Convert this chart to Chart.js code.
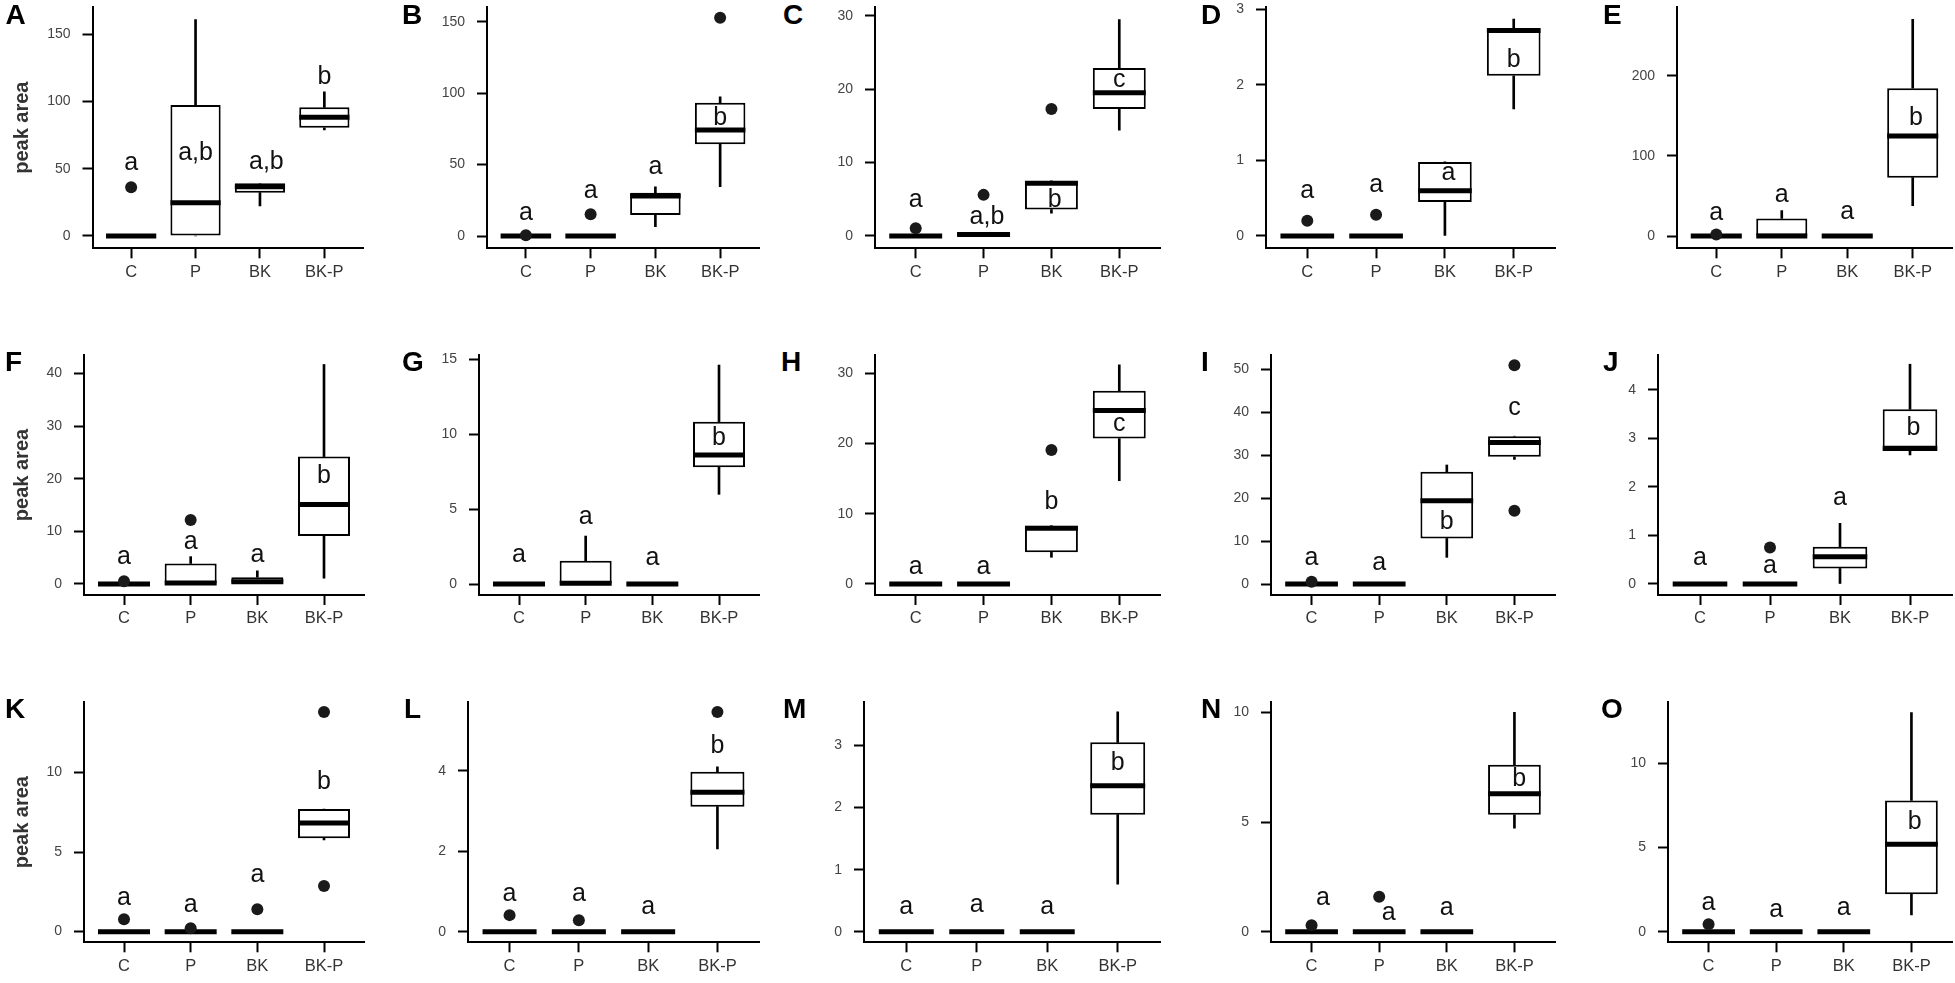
<!DOCTYPE html>
<html><head><meta charset="utf-8">
<script src="https://cdn.jsdelivr.net/npm/chart.js@4.4.1/dist/chart.umd.min.js"></script>
<style>
html,body{margin:0;padding:0;background:#fff;overflow:hidden;}
body{width:1955px;height:983px;position:relative;}
canvas{position:absolute;}
.plab{position:absolute;font:bold 28px "Liberation Sans",Arial,sans-serif;line-height:28px;color:#000;white-space:nowrap;}
</style></head><body>
<script>
// ---------------- data ----------------
const categories = ["C", "P", "BK", "BK-P"];
const panelNames = ["A","B","C","D","E","F","G","H","I","J","K","L","M","N","O"];
const yAxisTitle = "peak area";

const whiskerLow = [
  [0,0,22.3,78.8],[0,0,6.5,34.5],[0,0,3.1,14.4],[0,0,0,1.68],[0,0,0,37.8],
  [0,0,0,1.1],[0,0,0,5.98],[0,0,3.8,14.7],[0,0,6.2,29.0],[0,0,0,2.66],
  [0,0,0,5.77],[0,0,0,2.06],[0,0,0,0.765],[0,0,0,4.72],[0,0,0,0.99]
];
const quartile1 = [
  [0,0,32.2,80.5],[0,0,14.7,64.2],[0,0,3.6,17.3],[0,0,0.45,2.12],[0,0,0,72.8],
  [0,0,0.1,9.1],[0,0,0,7.78],[0,0,4.5,20.7],[0,0,10.6,29.6],[0,0,0.32,2.74],
  [0,0,0,5.87],[0,0,0,3.11],[0,0,0,1.885],[0,0,0,5.33],[0,0,0,2.22]
];
const medians = [
  [0,24.8,36.7,88.3],[0,0,28,74.2],[0,0.2,7.2,19.5],[0,0,0.6,2.72],[0,0,0,124.8],
  [0,0.2,0.45,15.1],[0,0.05,0,8.6],[0,0,7.93,24.7],[0,0,19.4,32.95],[0,0,0.56,2.8],
  [0,0,0,6.82],[0,0,0,3.47],[0,0,0,2.35],[0,0,0,6.29],[0,0,0,5.19]
];
const quartile3 = [
  [0,97.4,39.2,95.7],[0,0,30.3,93.3],[0,0.5,7.5,22.9],[0,0,0.98,2.75],[0,22,0,184.3],
  [0,3.9,1.3,24.2],[0,1.55,0,10.82],[0,0,8.3,27.5],[0,0,26.1,34.4],[0,0,0.77,3.6],
  [0,0,0,7.7],[0,0,0,3.98],[0,0,0,3.05],[0,0,0,7.61],[0,0,0,7.78]
];
const whiskerHigh = [
  [0,161,39.2,107.3],[0,0,34.5,97.5],[0,0.5,7.5,29.5],[0,0,0.98,2.87],[0,31.6,0,270.4],
  [0,5.2,2.5,41.7],[0,3.2,0,14.6],[0,0,8.3,31.2],[0,0,27.7,34.4],[0,0,1.25,4.53],
  [0,0,0,7.7],[0,0,0,4.1],[0,0,0,3.54],[0,0,0,10.0],[0,0,0,13.0]
];
// outliers: [category index, value]
const outliers = [
  [[0,36.2]],
  [[0,0.5],[1,15.2],[3,152.8]],
  [[0,1.05],[1,5.6],[2,17.3]],
  [[0,0.2],[1,0.28]],
  [[0,2]],
  [[0,0.5],[1,12.15]],
  [],
  [[2,19.08]],
  [[0,0.5],[3,50.9],[3,17.05]],
  [[1,0.75]],
  [[0,0.78],[1,0.21],[2,1.41],[3,13.8],[3,2.87]],
  [[0,0.415],[1,0.29],[3,5.46]],
  [],
  [[0,0.3],[1,1.6]],
  [[0,0.44]]
];
const groupLetters = [
  ["a","a,b","a,b","b"],["a","a","a","b"],["a","a,b","b","c"],["a","a","a","b"],["a","a","a","b"],
  ["a","a","a","b"],["a","a","a","b"],["a","a","b","c"],["a","a","b","c"],["a","a","a","b"],
  ["a","a","a","b"],["a","a","a","b"],["a","a","a","b"],["a","a","a","b"],["a","a","a","b"]
];
const letterY = [
  [54,61.7,55.3,118],[15.9,31.7,48.5,82.4],[4.9,2.6,4.9,21.3],[0.59,0.67,0.83,2.33],[28.3,51.2,30.3,146.8],
  [5.2,8.0,5.5,20.4],[1.93,4.49,1.71,9.71],[2.46,2.46,11.6,22.8],[5.97,4.96,14.5,40.9],[0.53,0.37,1.77,3.21],
  [2.1,1.68,3.57,9.37],[0.94,0.94,0.62,4.62],[0.4,0.43,0.4,2.71],[1.52,0.87,1.07,6.96],[1.69,1.25,1.39,6.47]
];
const letterDx = [
  [0,0,0.1,0],[0,0,0,0],[0,0.05,0.05,0],[0,0,0.05,0],[0,0,0,0.05],
  [0,0,0,0],[0,0,0,0],[0,0,0,0],[0,0,0,0],[0,0,0,0.05],
  [0,0,0,0],[0,0,0,0],[0,0,0,0],[0.17,0.14,0,0.07],[0,0,0,0.05]
];
const yTicks = [
  [0,50,100,150],[0,50,100,150],[0,10,20,30],[0,1,2,3],[0,100,200],
  [0,10,20,30,40],[0,5,10,15],[0,10,20,30],[0,10,20,30,40,50],[0,1,2,3,4],
  [0,5,10],[0,2,4],[0,1,2,3],[0,5,10],[0,5,10]
];
const yMin = [-9.15,-8.6,-1.68,-0.163,-15.3, -2.09,-0.73,-1.57,-2.56,-0.227, -0.67,-0.26,-0.17,-0.48,-0.63];
const yMax = [170.3,160.3,31.2,3.03,285.7, 43.5,15.27,32.6,53.3,4.72, 14.43,5.71,3.7,10.47,13.62];

// ---------------- layout (pixels) ----------------
const axisLeft  = [92.5,486.6,874.6,1265.8,1676.9, 84,478.6,874.6,1271,1657.8, 84,468,864,1271,1668.4];
const axisRight = [362.8,758.8,1159.7,1555.2,1951.9, 363.6,758.8,1159.7,1555.2,1951.9, 363.6,758.8,1159.7,1555.2,1951.9];
const rowTop = [7, 355, 702];
const rowBottom = [248.3, 595, 942.3];
const nameLeft = [5.5,402,783,1201,1603, 5,402,781,1201,1603, 5,404,783,1201,1601];
const nameCapTop = [5, 352, 699];

const FONT = '"Liberation Sans", Arial, Helvetica, sans-serif';

for (let p = 0; p < panelNames.length; p++) {
  const row = Math.floor(p / 5), col = p % 5;
  const L = axisLeft[p], R = axisRight[p], T = rowTop[row], B = rowBottom[row];
  const YW = col === 0 ? L : 70;
  const PT = 26, PR = 12;
  const cw = Math.round(YW + (R - L) + PR);
  const ch = Math.ceil(PT + (B - T) + 45);
  const XH = ch - PT - (B - T);

  const cv = document.createElement('canvas');
  cv.width = cw; cv.height = ch;
  cv.style.left = (L - YW) + 'px';
  cv.style.top = (T - PT) + 'px';
  cv.style.width = cw + 'px';
  cv.style.height = ch + 'px';
  document.body.appendChild(cv);

  const lab = document.createElement('div');
  lab.className = 'plab';
  lab.textContent = panelNames[p];
  lab.style.left = nameLeft[p] + 'px';
  lab.style.top = (nameCapTop[row] - 3.7) + 'px';
  document.body.appendChild(lab);

  const idx = [0,1,2,3];
  const gridOpts = { display: true, drawOnChartArea: false, drawTicks: true, tickLength: 10, tickWidth: 2, tickColor: '#000', offset: false };
  const borderOpts = { display: true, color: '#000', width: 2 };

  const extras = {
    id: 'boxExtras' + p,
    afterDatasetDraw(chart, args) {
      if (args.index !== 2) return;
      const ctx = chart.ctx, ys = chart.scales.y;
      ctx.save();
      ctx.strokeStyle = '#000';
      ctx.lineWidth = 5;
      ctx.lineCap = 'butt';
      args.meta.data.forEach((el, i) => {
        const y = ys.getPixelForValue(medians[p][i]);
        ctx.beginPath();
        ctx.moveTo(el.x - el.width / 2, y);
        ctx.lineTo(el.x + el.width / 2, y);
        ctx.stroke();
      });
      ctx.restore();
    },
    afterDraw(chart) {
      const ctx = chart.ctx, xs = chart.scales.x, ys = chart.scales.y;
      ctx.save();
      ctx.font = '25px ' + FONT;
      ctx.fillStyle = '#111';
      ctx.textAlign = 'center';
      ctx.textBaseline = 'middle';
      groupLetters[p].forEach((t, i) => {
        ctx.fillText(t, xs.getPixelForValue(i + letterDx[p][i]), ys.getPixelForValue(letterY[p][i]));
      });
      ctx.restore();
    }
  };

  new Chart(cv, {
    type: 'bar',
    data: {
      datasets: [
        { type: 'bar', label: 'lower whisker', data: idx.map(i => ({ x: i, y: [whiskerLow[p][i], quartile1[p][i]] })),
          backgroundColor: '#000', borderWidth: 0, barThickness: 2, grouped: false, order: 3 },
        { type: 'bar', label: 'upper whisker', data: idx.map(i => ({ x: i, y: [quartile3[p][i], whiskerHigh[p][i]] })),
          backgroundColor: '#000', borderWidth: 0, barThickness: 2, grouped: false, order: 3 },
        { type: 'bar', label: 'box', data: idx.map(i => ({ x: i, y: [quartile1[p][i], quartile3[p][i]] })),
          backgroundColor: '#fff', borderColor: '#000', borderWidth: 2, borderSkipped: false,
          barPercentage: 0.78, categoryPercentage: 1, grouped: false, order: 2 },
        { type: 'scatter', label: 'outliers', data: outliers[p].map(o => ({ x: o[0], y: o[1] })),
          pointRadius: 6, pointBackgroundColor: '#1a1a1a', pointBorderWidth: 0, showLine: false, order: 0 }
      ]
    },
    options: {
      responsive: false,
      animation: false,
      events: [],
      layout: { padding: { left: 0, top: PT, right: PR, bottom: 0 } },
      plugins: { legend: { display: false }, tooltip: { enabled: false }, title: { display: false } },
      scales: {
        x: {
          type: 'linear', min: -0.6, max: 3.6, offset: false, bounds: 'data',
          afterBuildTicks: a => { a.ticks = categories.map((c, i) => ({ value: i })); },
          afterFit: a => { a.height = XH; },
          ticks: { callback: v => categories[v], autoSkip: false, maxRotation: 0, minRotation: 0, padding: 4,
                   color: '#333', font: { family: FONT, size: 16.5 } },
          grid: gridOpts,
          border: borderOpts
        },
        y: {
          type: 'linear', min: yMin[p], max: yMax[p], bounds: 'data',
          afterBuildTicks: a => { a.ticks = yTicks[p].map(v => ({ value: v })); },
          afterFit: a => { a.width = YW; },
          ticks: { padding: 12, color: '#444', font: { family: FONT, size: 14 } },
          grid: gridOpts,
          border: borderOpts,
          title: col === 0
            ? { display: true, text: yAxisTitle, color: '#333', font: { family: FONT, size: 20, weight: 'bold' }, padding: { top: 10, bottom: 0 } }
            : { display: false }
        }
      }
    },
    plugins: [extras]
  });
}
</script>
</body></html>
